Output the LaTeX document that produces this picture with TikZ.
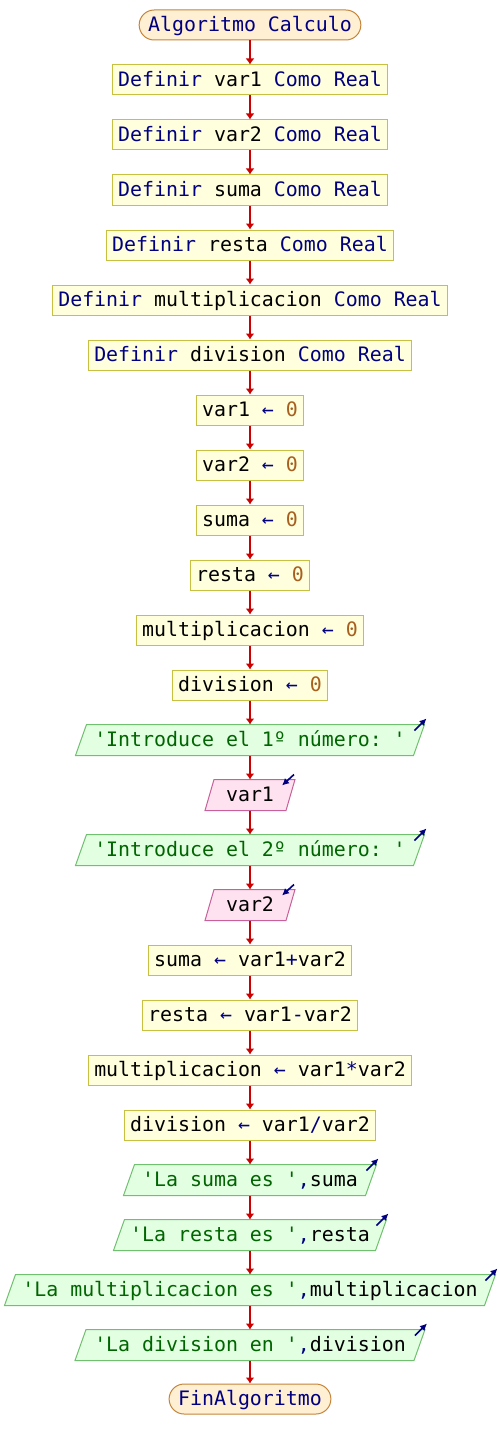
\documentclass[tikz,border=0pt]{standalone}
\usepackage{fontspec}
\setmonofont{DejaVu Sans Mono}
\usetikzlibrary{arrows.meta}

\definecolor{kwblue}{HTML}{000080}
\definecolor{strgreen}{HTML}{006400}
\definecolor{numbrown}{HTML}{A85F1E}
\definecolor{flowred}{HTML}{CC0000}
\definecolor{termfill}{HTML}{FFF0D4}
\definecolor{termline}{HTML}{C4843A}
\definecolor{procfill}{HTML}{FFFFDD}
\definecolor{procline}{HTML}{C8C040}
\definecolor{outfill}{HTML}{E2FFE2}
\definecolor{outline}{HTML}{70C070}
\definecolor{infill}{HTML}{FFE2F0}
\definecolor{inline}{HTML}{C8609A}

% coloured pieces of pseudocode
\newcommand\kwd[1]{\textcolor{kwblue}{#1}}
\newcommand\opr[1]{\textcolor{kwblue}{#1}}
\newcommand\numb[1]{\textcolor{numbrown}{#1}}
\newcommand\strg[1]{\textcolor{strgreen}{#1}}

\pgfdeclarelayer{bg}
\pgfsetlayers{bg,main}

% output statement: parallelogram with an outgoing arrow at the top right
\newcommand\outnode[4]{%
  \node[iotext, minimum width=#3] (#1) at (250,#2) {#4};
  \begin{pgfonlayer}{bg}
    \filldraw[outshape] ([xshift=-5.5pt]#1.south west) -- ([xshift=5.5pt]#1.north west)
      -- ([xshift=5.5pt]#1.north east) -- ([xshift=-5.5pt]#1.south east) -- cycle;
  \end{pgfonlayer}
  \draw[icon] ([shift={(-4.5pt,-6pt)}]#1.north east) -- ([shift={(7.5pt,6pt)}]#1.north east);
}
% input statement: parallelogram with an incoming arrow at the top right
\newcommand\innode[4]{%
  \node[iotext, minimum width=#3] (#1) at (250,#2) {#4};
  \begin{pgfonlayer}{bg}
    \filldraw[inshape] ([xshift=-4.5pt]#1.south west) -- ([xshift=4.5pt]#1.north west)
      -- ([xshift=4.5pt]#1.north east) -- ([xshift=-4.5pt]#1.south east) -- cycle;
  \end{pgfonlayer}
  \draw[icon] ([shift={(3.5pt,5pt)}]#1.north east) -- ([shift={(-8.5pt,-6pt)}]#1.north east);
}

\begin{document}
\begin{tikzpicture}[x=1pt,y=-1pt,
  font=\fontsize{19.9}{24}\selectfont\ttfamily\frenchspacing,
  base/.style={inner xsep=6pt, inner ysep=0pt, minimum height=30pt,
    text height=17pt, text depth=3.6pt, line width=1pt},
  procbox/.style={base, draw=procline, fill=procfill},
  termbox/.style={base, inner xsep=9pt, draw=termline, fill=termfill, rounded corners=15pt},
  iotext/.style={base},
  outshape/.style={draw=outline, fill=outfill, line width=1pt},
  inshape/.style={draw=inline, fill=infill, line width=1pt},
  flow/.style={draw=flowred, line width=1.5pt, -{Latex[length=6pt,width=9pt]}},
  icon/.style={draw=kwblue, line width=1.6pt, -{Latex[length=7pt,width=7pt]}}]

\begin{pgfonlayer}{bg}
  \fill[white] (0,0) rectangle (500,1450);
\end{pgfonlayer}
\useasboundingbox (0,0) rectangle (500,1450);

\node[termbox] (n0) at (250,25) {\kwd{Algoritmo Calculo}};
\node[procbox] (n1) at (250,80) {\kwd{Definir} var1 \kwd{Como Real}};
\node[procbox] (n2) at (250,135) {\kwd{Definir} var2 \kwd{Como Real}};
\node[procbox] (n3) at (250,190) {\kwd{Definir} suma \kwd{Como Real}};
\node[procbox] (n4) at (250,245) {\kwd{Definir} resta \kwd{Como Real}};
\node[procbox] (n5) at (250,300) {\kwd{Definir} multiplicacion \kwd{Como Real}};
\node[procbox] (n6) at (250,355) {\kwd{Definir} division \kwd{Como Real}};
\node[procbox] (n7) at (250,410) {var1 \opr{←} \numb{0}};
\node[procbox] (n8) at (250,465) {var2 \opr{←} \numb{0}};
\node[procbox] (n9) at (250,520) {suma \opr{←} \numb{0}};
\node[procbox] (n10) at (250,575) {resta \opr{←} \numb{0}};
\node[procbox] (n11) at (250,630) {multiplicacion \opr{←} \numb{0}};
\node[procbox] (n12) at (250,685) {division \opr{←} \numb{0}};
\outnode{n13}{740}{337pt}{\strg{'Introduce el 1º número: '}}
\innode{n14}{795}{80pt}{var1}
\outnode{n15}{850}{337pt}{\strg{'Introduce el 2º número: '}}
\innode{n16}{905}{80pt}{var2}
\node[procbox] (n17) at (250,960) {suma \opr{←} var1\opr{+}var2};
\node[procbox] (n18) at (250,1015) {resta \opr{←} var1\opr{-}var2};
\node[procbox] (n19) at (250,1070) {multiplicacion \opr{←} var1\opr{*}var2};
\node[procbox] (n20) at (250,1125) {division \opr{←} var1\opr{/}var2};
\outnode{n21}{1180}{241pt}{\strg{'La suma es '}\opr{,}suma}
\outnode{n22}{1235}{261pt}{\strg{'La resta es '}\opr{,}resta}
\outnode{n23}{1290}{479pt}{\strg{'La multiplicacion es '}\opr{,}multiplicacion}
\outnode{n24}{1345}{338pt}{\strg{'La division en '}\opr{,}division}
\node[termbox] (n25) at (250,1399) {\kwd{FinAlgoritmo}};

\foreach \i in {0,...,24}{
  \pgfmathtruncatemacro\j{\i+1}
  \draw[flow] (n\i.south) -- (n\j.north);
}
\end{tikzpicture}
\end{document}
